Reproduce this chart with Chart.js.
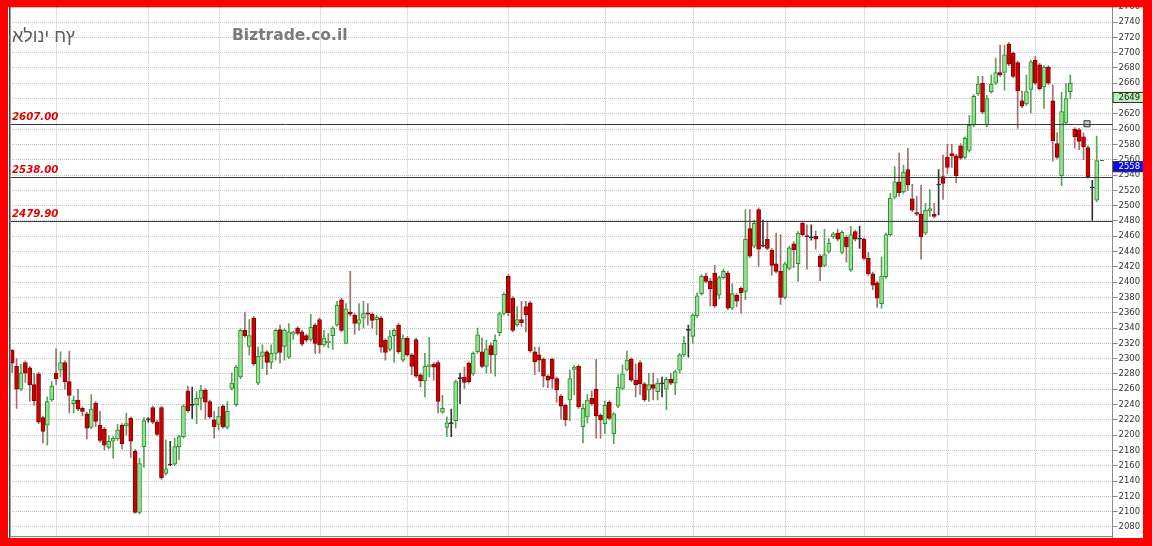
<!DOCTYPE html>
<html>
<head>
<meta charset="utf-8">
<script src="https://cdn.jsdelivr.net/npm/chart.js@4.4.1/dist/chart.umd.min.js"></script>
<style>
  html, body { margin: 0; padding: 0; background: #ff0000; }
  #wrap { position: absolute; left: 0; top: 0; width: 1152px; height: 546px; }
</style>
</head>
<body>
<div id="wrap"><canvas id="c" width="1152" height="546"></canvas></div>
<script>
// ---- data ----
const opens = [2311,2290,2260,2295,2288,2266,2280,2223,2213,2246,2281,2285,2295,2270,2241,2246,2235,2228,2210,2242,2213,2208,2184,2192,2195,2213,2212,2222,2179,2099,2185,2220,2236,2217,2236,2150,2161,2162,2185,2198,2258,
2239,2240,2248,2259,2244,2220,2214,2238,2210,2261,2240,2276,2337,2316,2353,2268,2303,2309,2295,2307,2338,2316,2302,2332,2340,2335,2330,2325,2344,2351,2318,2321,2330,2344,2377,2320,2361,2357,2346,2353,
2360,2358,2351,2353,2324,2312,2330,2344,2298,2327,2305,2325,2279,2271,2290,2293,2295,2230,2210,2215,2219,2274,2276,2294,2280,2309,2309,2290,2317,2305,2334,2359,2408,2379,2344,2351,2368,2373,2309,2305,2299,
2277,2299,2274,2251,2239,2246,2286,2290,2211,2224,2248,2260,2226,2215,2243,2202,2238,2261,2286,2299,2272,2295,2267,2259,2266,2257,2267,2260,2273,2268,2285,2305,2337,2329,2356,2385,2408,2401,2412,2383,2406,2412,
2366,2383,2392,2388,2470,2447,2495,2447,2456,2442,2424,2414,2380,2418,2450,2424,2477,2461,2458,2460,2434,2422,2440,2459,2464,2439,2459,2416,2466,2456,2456,2431,2411,2399,2372,2407,
2462,2511,2531,2518,2547,2509,2491,2489,2464,2493,2489,2527,2538,2563,2568,2565,2578,2563,2572,2605,2646,2660,2605,2649,2660,2674,2674,2711,2699,2687,2637,2633,2652,2690,2684,2655,2681,2637,2581,2539,2608,2649,2600,2599,2590,2576,2523,2507];
const highs = [2312,2300,2293,2297,2290,2281,2282,2225,2250,2270,2313,2309,2297,2310,2251,2260,2237,2230,2253,2244,2231,2210,2199,2198,2214,2215,2229,2224,2181,2170,2223,2223,2238,2219,2238,2194,2192,2196,2200,2240,2264,
2263,2257,2265,2261,2246,2231,2237,2240,2244,2281,2291,2339,2361,2351,2355,2315,2318,2311,2318,2339,2344,2339,2346,2336,2342,2337,2332,2358,2346,2353,2337,2333,2342,2375,2379,2372,2414,2359,2372,2375,
2372,2360,2357,2355,2326,2337,2339,2346,2331,2329,2307,2327,2281,2307,2328,2295,2297,2252,2224,2234,2272,2281,2289,2296,2309,2340,2327,2324,2321,2331,2361,2386,2410,2381,2368,2375,2375,2375,2315,2315,2301,
2279,2301,2276,2253,2241,2285,2291,2292,2241,2253,2258,2299,2228,2245,2245,2230,2279,2292,2310,2301,2293,2297,2269,2281,2281,2274,2276,2276,2281,2285,2307,2329,2344,2359,2386,2410,2412,2405,2422,2408,2417,2414,
2398,2385,2394,2495,2495,2481,2497,2481,2478,2444,2464,2462,2426,2447,2453,2466,2479,2475,2475,2467,2436,2469,2457,2465,2469,2467,2461,2473,2468,2473,2458,2439,2413,2401,2433,2464,
2516,2551,2569,2553,2575,2528,2512,2527,2503,2521,2503,2547,2566,2580,2580,2567,2581,2590,2618,2645,2669,2669,2644,2671,2693,2710,2710,2713,2701,2689,2650,2671,2690,2695,2686,2683,2683,2658,2595,2648,2660,2671,2602,2601,2595,2578,2533,2591];
const lows = [2282,2235,2258,2269,2244,2239,2215,2190,2187,2244,2266,2276,2260,2229,2229,2232,2225,2195,2208,2211,2191,2181,2182,2170,2193,2182,2200,2171,2098,2097,2158,2217,2215,2199,2142,2148,2160,2160,2168,2196,2230,
2222,2215,2233,2221,2222,2196,2207,2209,2208,2259,2238,2274,2328,2305,2291,2266,2287,2279,2287,2298,2294,2298,2300,2325,2331,2317,2322,2323,2307,2307,2316,2314,2312,2342,2335,2320,2356,2332,2337,2340,
2344,2340,2331,2308,2298,2310,2295,2307,2296,2303,2279,2275,2263,2250,2276,2272,2229,2228,2198,2198,2209,2241,2261,2268,2278,2307,2288,2281,2281,2277,2330,2357,2356,2335,2342,2342,2335,2308,2279,2283,2263,
2262,2261,2243,2221,2212,2219,2253,2235,2190,2216,2239,2196,2196,2202,2220,2189,2236,2259,2284,2270,2250,2253,2244,2244,2246,2246,2250,2233,2266,2253,2281,2303,2302,2320,2354,2383,2399,2369,2367,2378,2404,2364,
2364,2368,2359,2377,2432,2445,2421,2446,2442,2409,2412,2371,2378,2416,2419,2401,2460,2417,2455,2443,2402,2420,2438,2457,2454,2437,2426,2414,2454,2444,2429,2409,2390,2367,2366,2405,
2460,2509,2512,2516,2520,2492,2487,2430,2462,2486,2484,2488,2508,2542,2550,2530,2560,2561,2570,2603,2644,2620,2603,2647,2658,2669,2651,2683,2667,2601,2628,2631,2621,2658,2651,2627,2658,2558,2561,2526,2606,2640,2575,2573,2560,2536,2481,2505];
const closes = [2294,2260,2281,2281,2266,2245,2217,2205,2244,2264,2274,2295,2270,2252,2246,2234,2231,2209,2234,2218,2193,2187,2192,2196,2207,2189,2215,2192,2099,2163,2219,2220,2217,2201,2144,2156,2161,2185,2198,2238,2232,
2239,2248,2259,2243,2224,2211,2225,2211,2231,2268,2289,2337,2330,2330,2293,2303,2309,2295,2307,2337,2308,2337,2335,2334,2333,2319,2324,2341,2320,2318,2327,2323,2340,2370,2337,2365,2358,2346,2351,2359,
2358,2350,2354,2315,2308,2329,2337,2309,2327,2305,2290,2277,2271,2290,2292,2289,2244,2235,2216,2215,2270,2274,2269,2270,2307,2331,2290,2313,2305,2324,2359,2384,2360,2337,2351,2347,2357,2310,2296,2298,2277,
2272,2274,2259,2238,2220,2274,2289,2237,2235,2246,2241,2225,2220,2239,2222,2228,2263,2280,2298,2272,2266,2267,2246,2266,2261,2268,2267,2273,2268,2283,2305,2320,2337,2357,2382,2408,2401,2391,2369,2406,2414,2366,
2385,2375,2386,2456,2434,2477,2443,2447,2444,2422,2414,2380,2424,2445,2442,2464,2462,2459,2458,2456,2420,2436,2451,2463,2456,2465,2446,2462,2456,2456,2431,2411,2396,2379,2408,2462,
2510,2531,2517,2544,2527,2494,2489,2459,2494,2496,2486,2527,2529,2550,2565,2539,2562,2588,2605,2643,2659,2622,2640,2659,2674,2671,2697,2685,2669,2650,2630,2649,2688,2660,2653,2681,2660,2585,2563,2623,2640,2660,2590,2584,2577,2538,2523,2559];

const yTicks = [2080,2100,2120,2140,2160,2180,2200,2220,2240,2260,2280,2300,2320,2340,2360,2380,2400,2420,2440,2460,2480,2500,2520,2540,2560,2580,2600,2620,2640,2660,2680,2700,2720,2740,2760];
const monthLines = [10,31,47,70,90,113,135,155,176,194,213,233];
const levels = [2607, 2538, 2479.9];
const levelLabels = ['2607.00', '2538.00', '2479.90'];
const markerBoxes = [{value: 2649, text: '2649', fill: '#b9f2b9', color: '#1a1a1a'}, {value: 2558, text: '2558', fill: '#0a0af0', color: '#ffffff'}];
const squareMarker = [{x: 244.8, y: 2607}];
const lastDash = [{x: 248.2, y: 2559}];
const titleText = 'אלוני חץ';
const siteText = 'Biztrade.co.il';

// ---- styles ----
const UP_FILL = '#93e293', UP_EDGE = '#2f8f2f', UP_WICK = '#5aa35a';
const DN_FILL = '#cc0000', DN_EDGE = '#8a0000', DN_WICK = '#a26e6e';
const DOJI = '#333333';

const bodies = opens.map((o, i) => ({x: i, y: [o, closes[i]]}));
const wicks = lows.map((l, i) => ({x: i, y: [l, highs[i]]}));
const kind = i => closes[i] > opens[i] ? 1 : (closes[i] < opens[i] ? -1 : 0);

const decor = {
  id: 'decor',
  beforeDraw(chart) {
    const c = chart.ctx;
    c.save();
    c.fillStyle = '#ffffff';
    c.fillRect(0, 0, chart.width, chart.height);
    c.restore();
  },
  beforeDatasetsDraw(chart) {
    const c = chart.ctx, a = chart.chartArea, xs = chart.scales.x;
    c.save();
    c.strokeStyle = '#c4c4c4';
    c.lineWidth = 1;
    c.setLineDash([1, 1]);
    monthLines.forEach(m => {
      const px = Math.round(xs.getPixelForValue(m)) + 0.5;
      c.beginPath(); c.moveTo(px, a.top); c.lineTo(px, a.bottom); c.stroke();
    });
    c.restore();
  },
  afterDatasetsDraw(chart) {
    const c = chart.ctx, a = chart.chartArea, ys = chart.scales.y;
    c.save();
    c.strokeStyle = '#3a3a3a';
    c.lineWidth = 1;
    levels.forEach((v, k) => {
      const py = Math.round(ys.getPixelForValue(v)) + 0.5;
      c.beginPath(); c.moveTo(a.left, py); c.lineTo(a.right, py); c.stroke();
      c.fillStyle = '#e00000';
      c.font = 'italic bold 10.2px "DejaVu Sans"';
      c.textBaseline = 'alphabetic';
      c.textAlign = 'left';
      c.fillText(levelLabels[k], 12, py - 5);
    });
    c.restore();
  },
  afterDraw(chart) {
    const c = chart.ctx, a = chart.chartArea, ys = chart.scales.y;
    c.save();
    // titles (the reference shows the Hebrew name in left-to-right glyph order)
    c.fillStyle = '#5e5e5e';
    c.font = '18px "Liberation Sans"';
    c.textBaseline = 'middle';
    c.textAlign = 'left';
    c.fillText('\u202D' + titleText + '\u202C', 12, 37);
    c.fillStyle = '#7a7a7a';
    c.font = 'bold 15.5px "DejaVu Sans"';
    c.fillText(siteText, 232, 36);
    // price boxes on the axis
    markerBoxes.forEach(b => {
      const py = ys.getPixelForValue(b.value);
      c.fillStyle = b.fill;
      c.fillRect(a.right + 0.5, py, 31, 11);
      c.strokeStyle = '#333';
      c.lineWidth = 1;
      c.strokeRect(a.right + 0.5, Math.round(py) + 0.5, 31, 10);
      c.fillStyle = b.color;
      c.font = '8.5px "DejaVu Sans"';
      c.textBaseline = 'middle';
      c.fillText(b.text, a.right + 6, Math.round(py) + 6);
    });
    // frame lines
    c.strokeStyle = '#444';
    c.beginPath(); c.moveTo(9.5, 0); c.lineTo(9.5, 546); c.stroke();
    c.strokeStyle = '#9a9a9a';
    c.beginPath(); c.moveTo(10.5, 0); c.lineTo(10.5, 546); c.stroke();
    c.strokeStyle = '#8a8a8a';
    c.beginPath(); c.moveTo(a.left, a.bottom - 0.5); c.lineTo(a.right, a.bottom - 0.5); c.stroke();
    // red border
    c.fillStyle = '#ff0000';
    c.fillRect(0, 0, 1152, 7.3);
    c.fillRect(0, 0, 8, 546);
    c.fillRect(1143, 0, 9, 546);
    c.fillRect(0, 538, 1152, 8);
    c.restore();
  }
};

new Chart(document.getElementById('c'), {
  type: 'bar',
  data: {
    datasets: [
      {
        type: 'scatter', data: squareMarker, pointStyle: 'rect', pointRadius: 4.3,
        backgroundColor: '#b8d6b8', borderColor: '#333', borderWidth: 1, order: 0
      },
      {
        type: 'scatter', data: lastDash, pointStyle: 'line', pointRadius: 2,
        borderColor: '#555', borderWidth: 1, order: 0
      },
      {
        data: bodies, grouped: false, barThickness: 4, borderWidth: 1, minBarLength: 1,
        borderSkipped: false, order: 1,
        backgroundColor: ctx => { const k = kind(ctx.dataIndex); return k > 0 ? UP_FILL : (k < 0 ? DN_FILL : DOJI); },
        borderColor: ctx => { const k = kind(ctx.dataIndex); return k > 0 ? UP_EDGE : (k < 0 ? DN_EDGE : DOJI); }
      },
      {
        data: wicks, grouped: false, barThickness: 1, borderWidth: 0, order: 2,
        backgroundColor: ctx => { const k = kind(ctx.dataIndex); return k > 0 ? UP_WICK : (k < 0 ? DN_WICK : DOJI); }
      }
    ]
  },
  options: {
    responsive: false,
    animation: false,
    devicePixelRatio: 1,
    layout: { padding: { left: 10, top: 6.7, right: 0, bottom: 9 } },
    plugins: { legend: { display: false }, tooltip: { enabled: false } },
    scales: {
      x: { type: 'linear', min: -0.5, max: 250.6, display: false, offset: false },
      y: {
        position: 'right', min: 2066.9, max: 2760,
        afterBuildTicks: s => { s.ticks = yTicks.map(v => ({ value: v })); },
        afterFit: s => { s.width = 39.5; },
        grid: { color: '#c4c4c4', tickColor: '#8a8a8a', tickLength: 5, tickBorderDash: [] },
        border: { display: true, color: '#8a8a8a', dash: [1, 1] },
        ticks: { font: { family: 'DejaVu Sans', size: 8.5 }, color: '#333', padding: 1, callback: v => String(v) }
      }
    }
  },
  plugins: [decor]
});
</script>
</body>
</html>
